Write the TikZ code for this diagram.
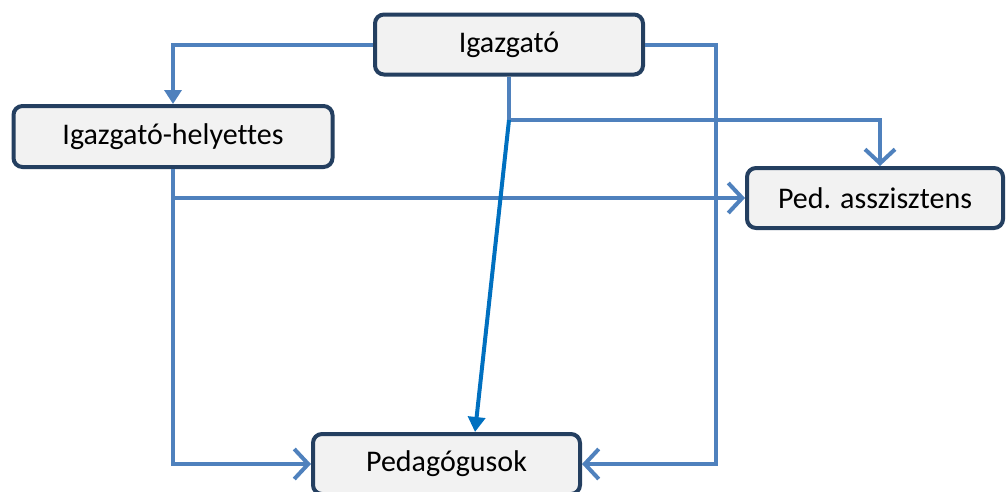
\documentclass[tikz,border=0pt]{standalone}
\usepackage{fontspec}
\setmainfont[Ligatures=NoCommon]{Carlito}
\usetikzlibrary{arrows.meta}
\definecolor{boxborder}{HTML}{243F60}
\definecolor{boxfill}{HTML}{F2F2F2}
\definecolor{conn}{HTML}{4F81BD}
\definecolor{connb}{HTML}{0070C0}
\tikzset{
  box/.style={draw=boxborder, fill=boxfill, line width=4pt, rounded corners=9pt,
    inner sep=0pt, font=\fontsize{30}{34}\selectfont},
  link/.style={draw=conn, line width=4pt,
    -{Straight Barb[length=14pt,width=30pt,line width=4pt]}},
  filledlink/.style={draw=conn, line width=4pt,
    -{Triangle[length=14pt,width=17pt]}},
  darklink/.style={draw=connb, line width=4pt,
    -{Triangle[length=15pt,width=17pt]}},
}
\begin{document}
\begin{tikzpicture}[x=1pt,y=-1pt]
\clip (0,0) rectangle (1008,491);
\node[box, minimum width=268pt, minimum height=60pt] (ig) at (509,44.5) {Igazgató};
\node[box, minimum width=319pt, minimum height=61pt] (hel) at (173,136.5) {Igazgató-helyettes};
\node[box, minimum width=256pt, minimum height=60pt] (asz) at (875,198) {Ped. asszisztens};
\node[box, minimum width=267pt, minimum height=60pt] (ped) at (446.5,464) {Pedagógusok};
\coordinate (j) at (509,120);
\coordinate (k) at (173,198);
\coordinate (r) at (716,44.5);
\draw[filledlink] (ig.west) -| (hel.north);
\draw[link] (ig.east) -- (r) |- (ped.east);
\draw[link] (ig.south) -- (j) -| ([xshift=5pt]asz.north);
\draw[link] (hel.south) |- (ped.west);
\draw[link] (k) -- (asz.west);
\draw[darklink] (j) -- ([xshift=28.5pt]ped.north);
\end{tikzpicture}
\end{document}
